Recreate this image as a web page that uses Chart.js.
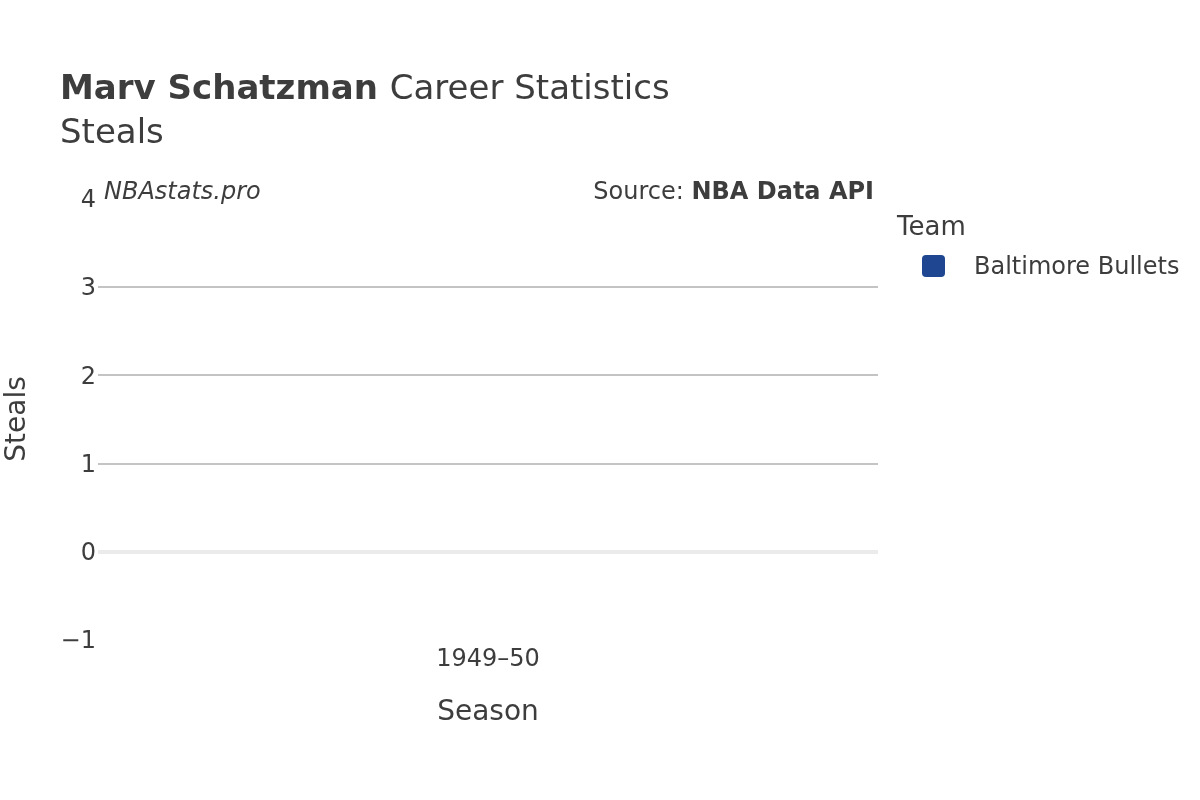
<!DOCTYPE html>
<html>
<head>
<meta charset="utf-8">
<script src="https://cdn.jsdelivr.net/npm/chart.js@4.4.0/dist/chart.umd.min.js"></script>
<style>
  html, body { margin: 0; padding: 0; background: #fff; }
  #wrap { width: 1200px; height: 800px; position: relative; }
</style>
</head>
<body>
<div id="wrap"><canvas id="myChart" width="1200" height="800"></canvas></div>
<script>
const seasons = ['1949\u201350'];
const teams = ['Baltimore Bullets'];
const teamColors = ['#1f4690'];
const steals = [null];
const yTicks = [-1, 0, 1, 2, 3, 4];

const FONT = '"DejaVu Sans", sans-serif';
const TEXT = '#3d3d3d';

// titles, watermark, axis titles and legend drawn on top
const decorations = {
    id: 'decorations',
    afterDraw(chart) {
        const {ctx, chartArea: {left, right}} = chart;
        ctx.save();
        ctx.fillStyle = TEXT;
        ctx.textBaseline = 'middle';

        // title
        ctx.textAlign = 'left';
        ctx.font = 'bold 34px ' + FONT;
        const name = 'Marv Schatzman';
        ctx.fillText(name, 60, 90);
        const w = ctx.measureText(name + ' ').width;
        ctx.font = '34px ' + FONT;
        ctx.fillText('Career Statistics', 60 + w, 90);
        ctx.fillText('Steals', 60, 134);

        // watermark + source
        ctx.font = 'italic 24px ' + FONT;
        ctx.fillText('NBAstats.pro', 104, 193);
        ctx.textAlign = 'right';
        ctx.font = 'bold 24px ' + FONT;
        const bold = 'NBA Data API';
        ctx.fillText(bold, 874, 193);
        const bw = ctx.measureText(bold).width;
        ctx.font = '24px ' + FONT;
        ctx.fillText('Source: ', 874 - bw, 193);

        // axis titles
        ctx.textAlign = 'center';
        ctx.font = '28px ' + FONT;
        ctx.fillText('Season', (left + right) / 2, 713);
        ctx.save();
        ctx.translate(18, 419);
        ctx.rotate(-Math.PI / 2);
        ctx.fillText('Steals', 0, 0);
        ctx.restore();

        // legend
        ctx.textAlign = 'left';
        ctx.font = '26px ' + FONT;
        ctx.fillText('Team', 897, 228);
        teams.forEach((t, i) => {
            const y = 266 + i * 36;
            ctx.fillStyle = teamColors[i];
            ctx.beginPath();
            ctx.roundRect(922, y - 11, 23, 22, 4);
            ctx.fill();
            ctx.fillStyle = TEXT;
            ctx.font = '24px ' + FONT;
            ctx.fillText(t, 974, y + 2);
        });
        ctx.restore();
    }
};

new Chart(document.getElementById('myChart'), {
    type: 'line',
    data: {
        labels: seasons,
        datasets: teams.map((t, i) => ({
            label: t,
            data: steals,
            borderColor: teamColors[i],
            backgroundColor: teamColors[i],
            pointRadius: 6
        }))
    },
    options: {
        responsive: false,
        animation: false,
        devicePixelRatio: 1,
        layout: {
            padding: {top: 199, right: 322, left: 0, bottom: 0}
        },
        plugins: {
            legend: {display: false},
            title: {display: false},
            tooltip: {enabled: false}
        },
        scales: {
            x: {
                type: 'category',
                offset: true,
                grid: {display: false, drawTicks: false},
                border: {display: false},
                ticks: {
                    color: TEXT,
                    font: {family: FONT, size: 24},
                    padding: 5
                },
                afterFit(scale) { scale.height = 160; }
            },
            y: {
                min: -1,
                max: 4,
                afterBuildTicks(scale) {
                    scale.ticks = yTicks.map(v => ({value: v}));
                },
                grid: {
                    drawTicks: false,
                    color: c => {
                        const v = c.tick && c.tick.value;
                        if (v === 0) return '#ebebeb';
                        if (v === 4 || v === -1) return 'rgba(0,0,0,0)';
                        return '#c4c4c4';
                    },
                    lineWidth: c => (c.tick && c.tick.value === 0) ? 4 : 2
                },
                border: {display: false},
                ticks: {
                    color: TEXT,
                    font: {family: FONT, size: 24},
                    padding: 2,
                    labelOffset: 2,
                    callback: v => v < 0 ? '\u2212' + Math.abs(v) : String(v)
                },
                afterFit(scale) { scale.width = 98; }
            }
        }
    },
    plugins: [decorations]
});
</script>
</body>
</html>
